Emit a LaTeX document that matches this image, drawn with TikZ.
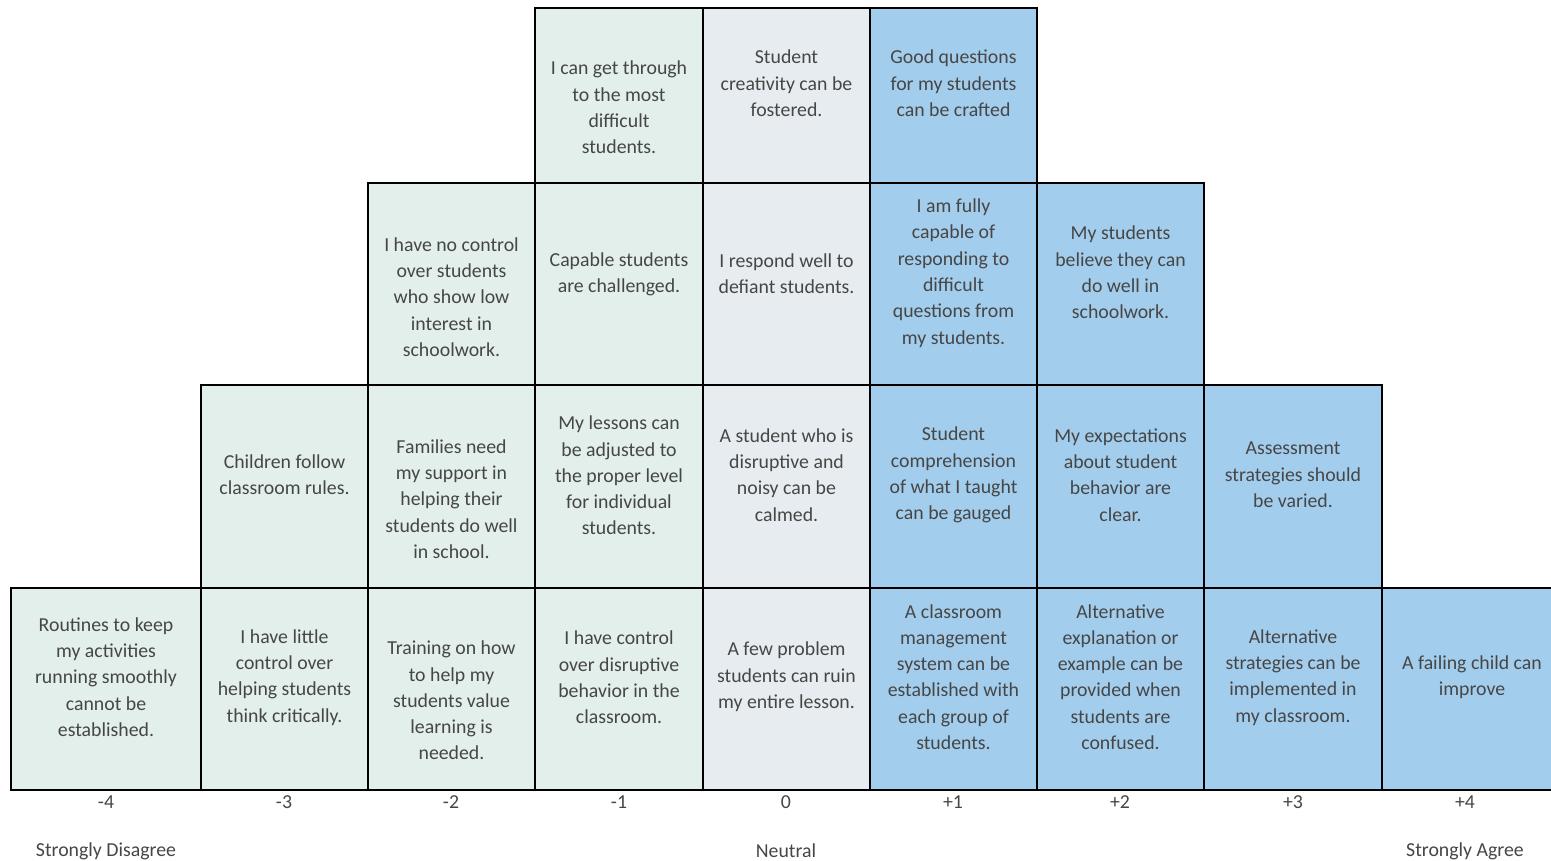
\documentclass[tikz,border=0pt]{standalone}
\usepackage{fontspec}
\setmainfont{Carlito}
\definecolor{disagree}{HTML}{E2EFEA}
\definecolor{neutralc}{HTML}{E6ECEF}
\definecolor{agree}{HTML}{A3CDEC}
\definecolor{ink}{HTML}{464646}
\tikzset{
  cellbox/.style={draw=black,line width=1pt,inner sep=0pt,outer sep=0pt},
  celltext/.style={align=center,inner sep=0pt,text=ink,font=\fontsize{9.9}{13.15}\selectfont},
  scalelabel/.style={inner sep=0pt,text=ink,font=\fontsize{9.9}{13.15}\selectfont}
}
% \qcell{name}{x1}{x2}{y1}{y2}{fill}{text centre y}{text}
\newcommand\qcell[8]{%
  \node[cellbox,fill=#6,minimum width={(#3-#2)*0.5pt},minimum height={(#5-#4)*0.5pt}]
    (#1) at ({(#2+#3)/2},{(#4+#5)/2}) {};
  \node[celltext] (#1-t) at ({(#2+#3)/2},#7) {#8};
}
\begin{document}
\begin{tikzpicture}[x=0.5pt,y=-0.5pt]
\useasboundingbox (0,0) rectangle (1551,861);
\clip (0,0) rectangle (1551,861);
\fill[white] (0,0) rectangle (1551,861);

% row 1 (top)
\qcell{r1m1}{535}{703}{8}{183}{disagree}{107.5}{I can get through\\to the most\\difficult\\students.}
\qcell{r1z}{703}{870}{8}{183}{neutralc}{83.5}{Student\\creativity can be\\fostered.}
\qcell{r1p1}{870}{1037}{8}{183}{agree}{83.5}{Good questions\\for my students\\can be crafted}

% row 2
\qcell{r2m2}{368}{535}{183}{385}{disagree}{297}{I have no control\\over students\\who show low\\interest in\\schoolwork.}
\qcell{r2m1}{535}{703}{183}{385}{disagree}{274}{Capable students\\are challenged.}
\qcell{r2z}{703}{870}{183}{385}{neutralc}{274}{I respond well to\\defiant students.}
\qcell{r2p1}{870}{1037}{183}{385}{agree}{273}{I am fully\\capable of\\responding to\\difficult\\questions from\\my students.}
\qcell{r2p2}{1037}{1204}{183}{385}{agree}{272.5}{My students\\believe they can\\do well in\\schoolwork.}

% row 3
\qcell{r3m3}{201}{368}{385}{588}{disagree}{475}{Children follow\\classroom rules.}
\qcell{r3m2}{368}{535}{385}{588}{disagree}{499}{Families need\\my support in\\helping their\\students do well\\in school.}
\qcell{r3m1}{535}{703}{385}{588}{disagree}{475.5}{My lessons can\\be adjusted to\\the proper level\\for individual\\students.}
\qcell{r3z}{703}{870}{385}{588}{neutralc}{475}{A student who is\\disruptive and\\noisy can be\\calmed.}
\qcell{r3p1}{870}{1037}{385}{588}{agree}{475}{Student\\comprehension\\of what I taught\\can be gauged}
\qcell{r3p2}{1037}{1204}{385}{588}{agree}{475}{My expectations\\about student\\behavior are\\clear.}
\qcell{r3p3}{1204}{1382}{385}{588}{agree}{475}{Assessment\\strategies should\\be varied.}

% row 4 (bottom)
\qcell{r4m4}{11}{201}{588}{790}{disagree}{677}{Routines to keep\\my activities\\running smoothly\\cannot be\\established.}
\qcell{r4m3}{201}{368}{588}{790}{disagree}{677.5}{I have little\\control over\\helping students\\think critically.}
\qcell{r4m2}{368}{535}{588}{790}{disagree}{700.5}{Training on how\\to help my\\students value\\learning is\\needed.}
\qcell{r4m1}{535}{703}{588}{790}{disagree}{677.5}{I have control\\over disruptive\\behavior in the\\classroom.}
\qcell{r4z}{703}{870}{588}{790}{neutralc}{677}{A few problem\\students can ruin\\my entire lesson.}
\qcell{r4p1}{870}{1037}{588}{790}{agree}{677}{A classroom\\management\\system can be\\established with\\each group of\\students.}
\qcell{r4p2}{1037}{1204}{588}{790}{agree}{677}{Alternative\\explanation or\\example can be\\provided when\\students are\\confused.}
\qcell{r4p3}{1204}{1382}{588}{790}{agree}{677.5}{Alternative\\strategies can be\\implemented in\\my classroom.}
\qcell{r4p4}{1382}{1562}{588}{790}{agree}{677.5}{A failing child can\\improve}

% scale values
\node[scalelabel] (s-4) at (106,802) {-4};
\node[scalelabel] (s-3) at (284,802) {-3};
\node[scalelabel] (s-2) at (451,802) {-2};
\node[scalelabel] (s-1) at (619,802) {-1};
\node[scalelabel] (s0)  at (786,802) {0};
\node[scalelabel] (s1)  at (953,802) {+1};
\node[scalelabel] (s2)  at (1120,802) {+2};
\node[scalelabel] (s3)  at (1293,802) {+3};
\node[scalelabel] (s4)  at (1465,802) {+4};

% scale anchors
\node[scalelabel] (sd) at (106,851) {Strongly Disagree};
\node[scalelabel] (nt) at (786,851) {Neutral};
\node[scalelabel] (sa) at (1465,851) {Strongly Agree};
\end{tikzpicture}
\end{document}
